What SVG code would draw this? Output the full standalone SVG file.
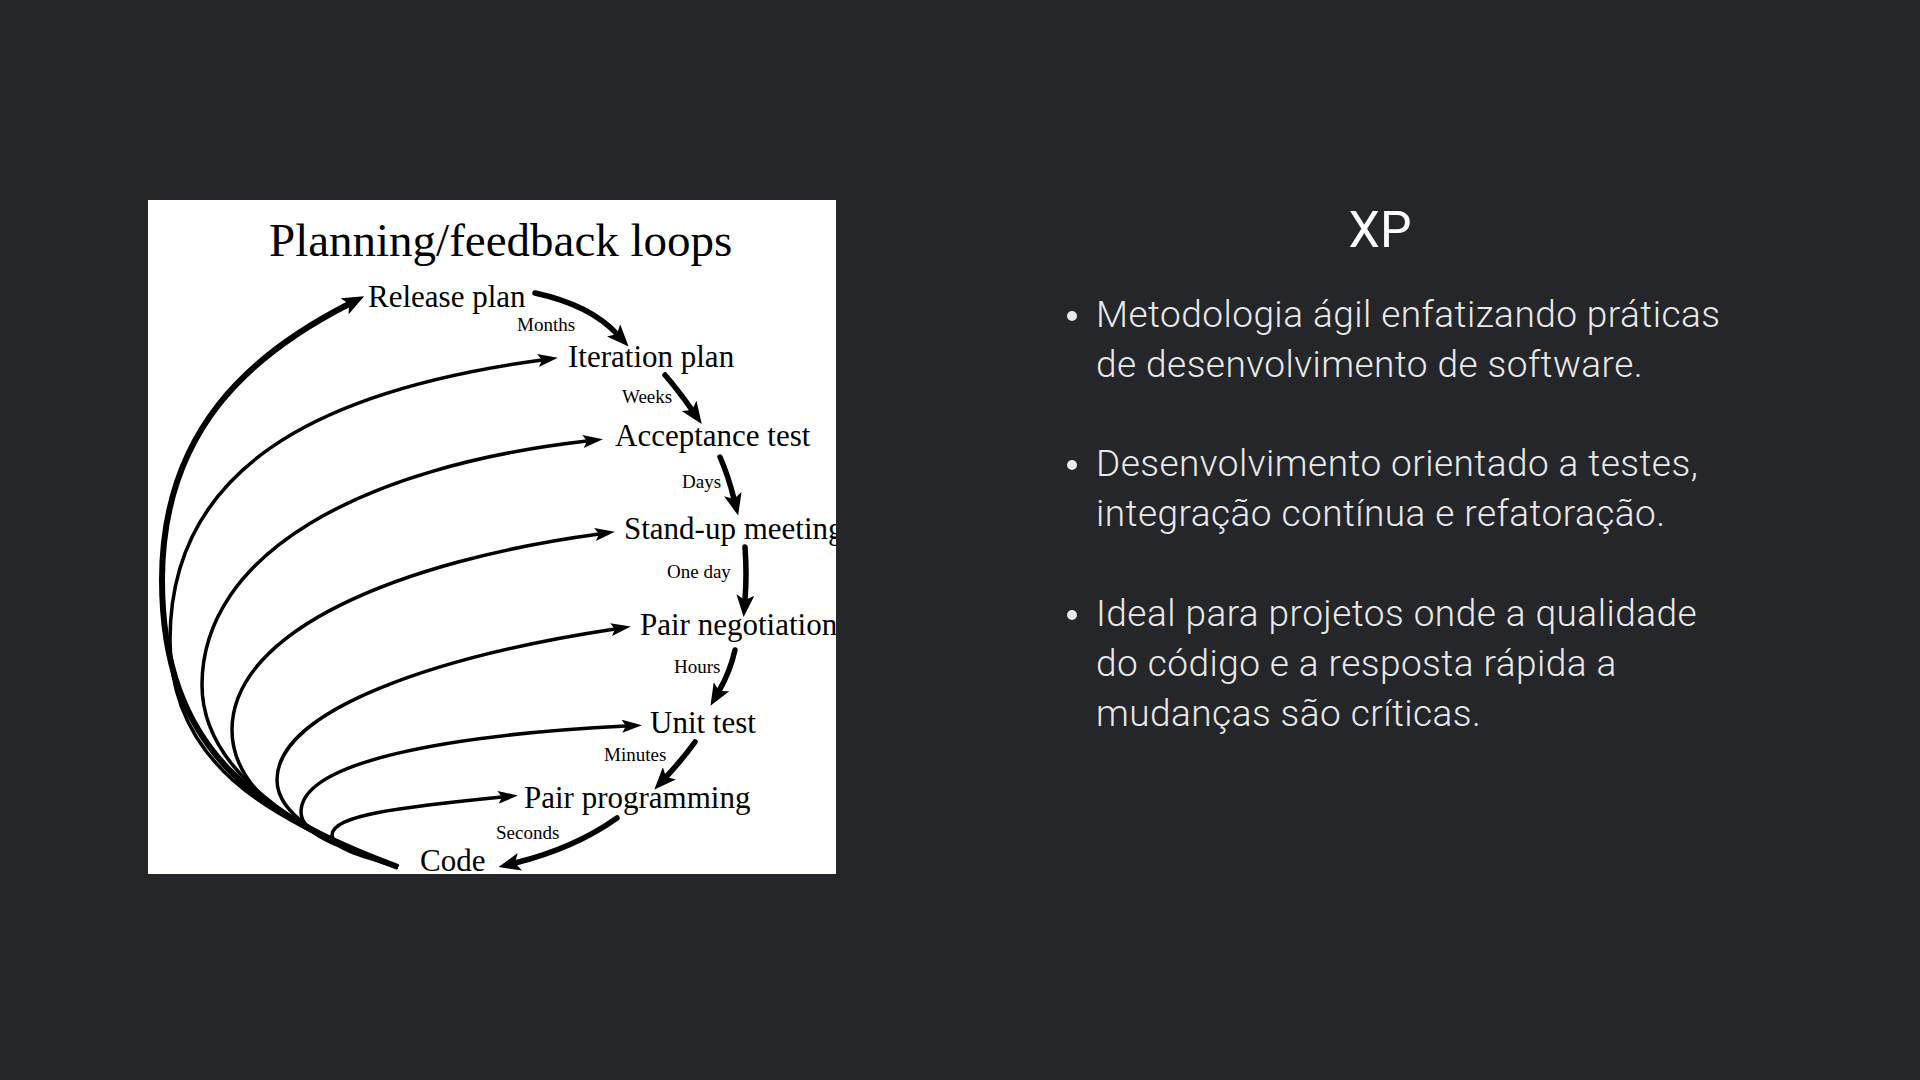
<svg xmlns="http://www.w3.org/2000/svg" width="1920" height="1080" viewBox="0 0 1920 1080">
<defs>
<style>
.bg{fill:#25262a}
.lbl{font-family:"Liberation Serif","Times New Roman",serif;font-size:31px;fill:#000}
.sm{font-family:"Liberation Serif","Times New Roman",serif;font-size:19px;fill:#000}
.title{font-family:"Liberation Serif","Times New Roman",serif;font-size:47px;fill:#000}
.loop{fill:none;stroke:#000;stroke-width:3.5;marker-end:url(#ah)}
.loop1{fill:none;stroke:#000;stroke-width:6;marker-end:url(#ahb)}
.step{fill:none;stroke:#000;stroke-width:5.5;stroke-linecap:round;marker-end:url(#ahb)}
.body{font-family:Roboto,"Liberation Sans",sans-serif;font-weight:300;font-size:37px;letter-spacing:0.45px;fill:#e9e9e9}
.h{font-family:Roboto,"Liberation Sans",sans-serif;font-size:50px;fill:#ffffff}
.dot{fill:#e9e9e9}
</style>
<marker id="ah" markerUnits="userSpaceOnUse" markerWidth="20" markerHeight="13" refX="4" refY="6.5" orient="auto" viewBox="0 0 20 13"><path d="M0,0 L20,6.5 L0,13 L4,6.5 z" fill="#000"/></marker>
<marker id="ahb" markerUnits="userSpaceOnUse" markerWidth="22" markerHeight="18" refX="5" refY="9" orient="auto" viewBox="0 0 22 18"><path d="M0,0 L22,9 L0,18 L5,9 z" fill="#000"/></marker>
<clipPath id="box"><rect x="148" y="200" width="688" height="674"/></clipPath>
</defs>
<rect class="bg" x="0" y="0" width="1920" height="1080"/>
<g id="diagram" clip-path="url(#box)">
<rect x="148" y="200" width="688" height="674" fill="#ffffff"/>
<text id="title" class="title" x="269" y="256">Planning/feedback loops</text>
<g id="connectors">
<path class="loop1" d="M398,867 C257,815 162,750 162,580 C162,430 251,354 349,304"/>
<path class="loop" d="M398,867 C262,818 170,760 170,640 C170,470 314,391 542,360"/>
<path class="loop" d="M398,867 C300,835 202,770 202,685 C202,555 359,467 587,441"/>
<path class="loop" d="M398,867 C320,842 232,800 232,730 C232,630 401,561 599,534"/>
<path class="loop" d="M398,867 C340,848 277,820 277,780 C277,710 437,656 615,629"/>
<path class="loop" d="M398,867 C355,852 301,838 301,812 C301,762 446,735 626,726"/>
<path class="loop" d="M398,867 C370,858 332,850 332,835 C332,815 402,807 502,797"/>
<path class="step" d="M535,293 Q590,305 617,334"/>
<path class="step" d="M665,375 Q678,390 692,410"/>
<path class="step" d="M720,457 Q728,475 734,499"/>
<path class="step" d="M745,547 Q747,575 745,600"/>
<path class="step" d="M735,650 Q730,672 719,691"/>
<path class="step" d="M695,742 Q682,760 666,777"/>
<path class="step" d="M617,818 Q575,848 515,863"/>
</g>
<g id="n-release"><text class="lbl" x="368" y="307">Release plan</text></g>
<g id="e-months"><text class="sm" x="517" y="331">Months</text></g>
<g id="n-iteration"><text class="lbl" x="568" y="367">Iteration plan</text></g>
<g id="e-weeks"><text class="sm" x="622" y="403">Weeks</text></g>
<g id="n-acceptance"><text class="lbl" x="615" y="446">Acceptance test</text></g>
<g id="e-days"><text class="sm" x="682" y="488">Days</text></g>
<g id="n-standup"><text class="lbl" x="624" y="539">Stand-up meeting</text></g>
<g id="e-oneday"><text class="sm" x="667" y="578">One day</text></g>
<g id="n-pairneg"><text class="lbl" x="640" y="635">Pair negotiation</text></g>
<g id="e-hours"><text class="sm" x="674" y="673">Hours</text></g>
<g id="n-unittest"><text class="lbl" x="650" y="733">Unit test</text></g>
<g id="e-minutes"><text class="sm" x="604" y="761">Minutes</text></g>
<g id="n-pairprog"><text class="lbl" x="524" y="808">Pair programming</text></g>
<g id="e-seconds"><text class="sm" x="496" y="839">Seconds</text></g>
<g id="n-code"><text class="lbl" x="420" y="871">Code</text></g>
</g>
<g id="xp-text">
<text class="h" x="1380" y="247" text-anchor="middle">XP</text>
<circle class="dot" cx="1072" cy="316" r="5"/>
<text class="body" x="1096" y="327">Metodologia ágil enfatizando práticas</text>
<text class="body" x="1096" y="377">de desenvolvimento de software.</text>
<circle class="dot" cx="1072" cy="465" r="5"/>
<text class="body" x="1096" y="476">Desenvolvimento orientado a testes,</text>
<text class="body" x="1096" y="526">integração contínua e refatoração.</text>
<circle class="dot" cx="1072" cy="615" r="5"/>
<text class="body" x="1096" y="626">Ideal para projetos onde a qualidade</text>
<text class="body" x="1096" y="676">do código e a resposta rápida a</text>
<text class="body" x="1096" y="726">mudanças são críticas.</text>
</g>
</svg>
